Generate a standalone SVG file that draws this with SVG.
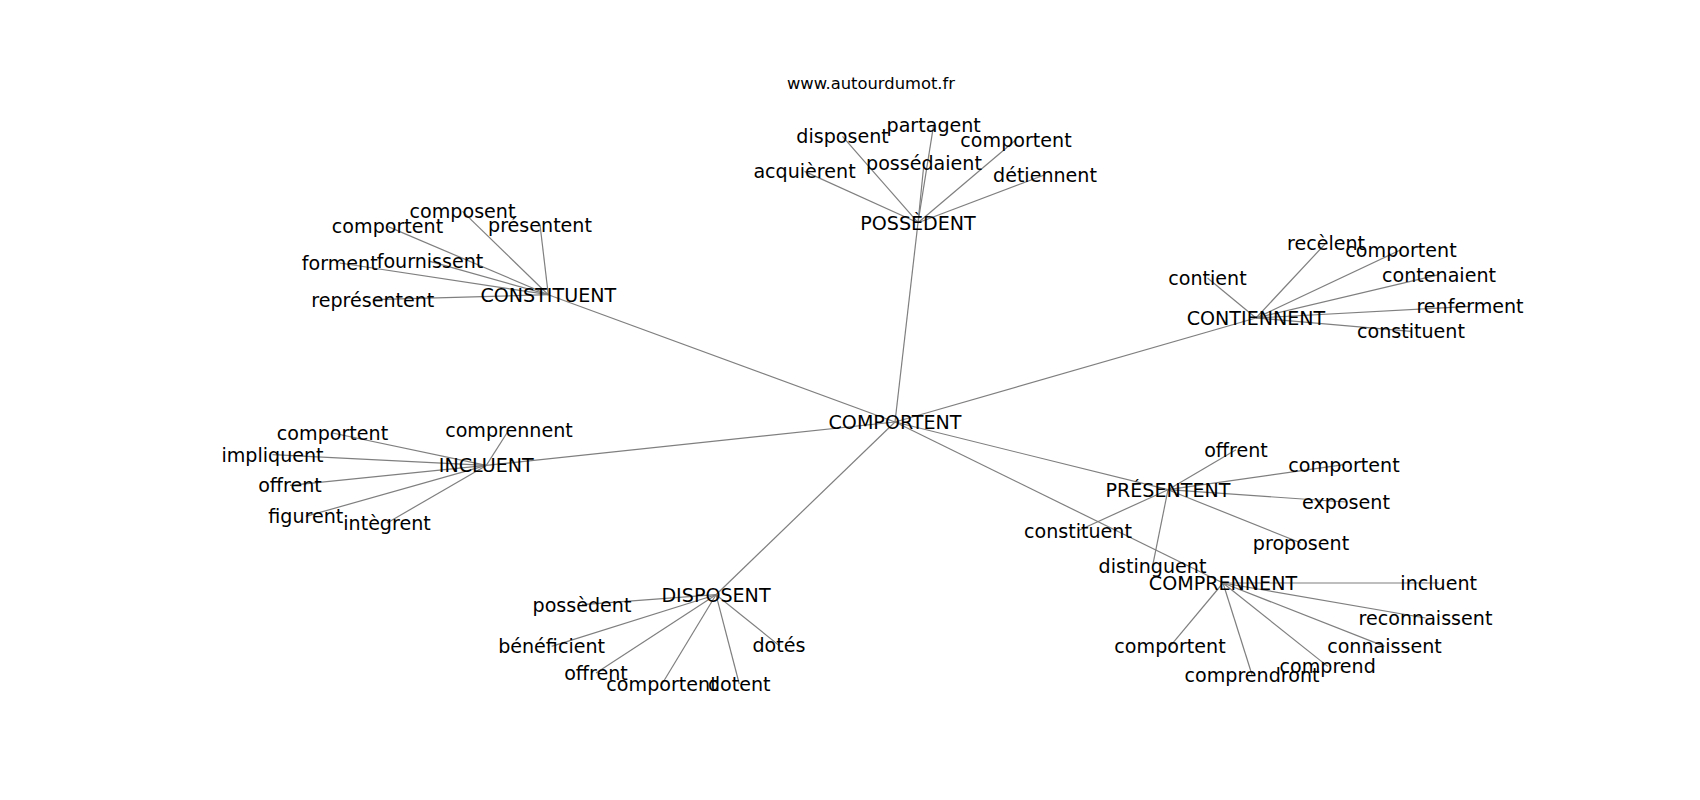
<svg xmlns="http://www.w3.org/2000/svg" width="1700" height="800" viewBox="0 0 1700 800">
<style>
text{font-family:"DejaVu Sans",sans-serif;font-size:19.1px;fill:#000;text-anchor:middle}
.t{font-size:16.35px}
#edges line{stroke:#7f7f7f;stroke-width:1.2}
</style>
<rect width="1700" height="800" fill="#fff"/>
<g id="edges">
<line x1="895" y1="422" x2="918" y2="222.7"/>
<line x1="895" y1="422" x2="548.3" y2="294.7"/>
<line x1="895" y1="422" x2="1256" y2="318"/>
<line x1="895" y1="422" x2="486.3" y2="465.4"/>
<line x1="895" y1="422" x2="1168" y2="489.7"/>
<line x1="895" y1="422" x2="1223" y2="583"/>
<line x1="895" y1="422" x2="716" y2="594.7"/>
<line x1="918" y1="222.7" x2="842.5" y2="136.4"/>
<line x1="918" y1="222.7" x2="933.7" y2="124.7"/>
<line x1="918" y1="222.7" x2="1016" y2="139.7"/>
<line x1="918" y1="222.7" x2="924" y2="163"/>
<line x1="918" y1="222.7" x2="804.5" y2="171.4"/>
<line x1="918" y1="222.7" x2="1045" y2="174.7"/>
<line x1="548.3" y1="294.7" x2="462.5" y2="211.4"/>
<line x1="548.3" y1="294.7" x2="387.5" y2="226.4"/>
<line x1="548.3" y1="294.7" x2="540" y2="224.7"/>
<line x1="548.3" y1="294.7" x2="339.7" y2="263"/>
<line x1="548.3" y1="294.7" x2="430" y2="261.4"/>
<line x1="548.3" y1="294.7" x2="372.8" y2="299.7"/>
<line x1="1256" y1="318" x2="1326" y2="243"/>
<line x1="1256" y1="318" x2="1401" y2="249.7"/>
<line x1="1256" y1="318" x2="1207.5" y2="278"/>
<line x1="1256" y1="318" x2="1439" y2="274.7"/>
<line x1="1256" y1="318" x2="1470" y2="306.4"/>
<line x1="1256" y1="318" x2="1411" y2="331.4"/>
<line x1="486.3" y1="465.4" x2="332.5" y2="433"/>
<line x1="486.3" y1="465.4" x2="509" y2="429.7"/>
<line x1="486.3" y1="465.4" x2="272.5" y2="454.7"/>
<line x1="486.3" y1="465.4" x2="290" y2="485.4"/>
<line x1="486.3" y1="465.4" x2="305.8" y2="516.4"/>
<line x1="486.3" y1="465.4" x2="387" y2="523"/>
<line x1="1168" y1="489.7" x2="1236" y2="449.7"/>
<line x1="1168" y1="489.7" x2="1344" y2="464.7"/>
<line x1="1168" y1="489.7" x2="1346" y2="502"/>
<line x1="1168" y1="489.7" x2="1078" y2="530.7"/>
<line x1="1168" y1="489.7" x2="1301" y2="543"/>
<line x1="1168" y1="489.7" x2="1152.5" y2="566.4"/>
<line x1="1223" y1="583" x2="1438.7" y2="583"/>
<line x1="1223" y1="583" x2="1425.5" y2="618"/>
<line x1="1223" y1="583" x2="1170" y2="646.4"/>
<line x1="1223" y1="583" x2="1384.5" y2="646.4"/>
<line x1="1223" y1="583" x2="1327.7" y2="666.4"/>
<line x1="1223" y1="583" x2="1252" y2="674.7"/>
<line x1="716" y1="594.7" x2="582" y2="604.7"/>
<line x1="716" y1="594.7" x2="551.6" y2="646.4"/>
<line x1="716" y1="594.7" x2="596" y2="673"/>
<line x1="716" y1="594.7" x2="662" y2="684"/>
<line x1="716" y1="594.7" x2="739.3" y2="684"/>
<line x1="716" y1="594.7" x2="779" y2="645.4"/>
</g>
<g id="labels" transform="translate(0,1.5)">
<g id="title"><text class="t" x="871" y="87.3">www.autourdumot.fr</text></g>
<g id="n-comportent-center"><text x="895" y="427.3">COMPORTENT</text></g>
<g id="n-possedent"><text x="918" y="228">POSSÈDENT</text></g>
<g id="n-possedent-disposent"><text x="842.5" y="141.7">disposent</text></g>
<g id="n-possedent-partagent"><text x="933.7" y="130">partagent</text></g>
<g id="n-possedent-comportent"><text x="1016" y="145">comportent</text></g>
<g id="n-possedent-possedaient"><text x="924" y="168.3">possédaient</text></g>
<g id="n-possedent-acquierent"><text x="804.5" y="176.7">acquièrent</text></g>
<g id="n-possedent-detiennent"><text x="1045" y="180">détiennent</text></g>
<g id="n-constituent"><text x="548.3" y="300">CONSTITUENT</text></g>
<g id="n-constituent-composent"><text x="462.5" y="216.7">composent</text></g>
<g id="n-constituent-comportent"><text x="387.5" y="231.7">comportent</text></g>
<g id="n-constituent-presentent"><text x="540" y="230">présentent</text></g>
<g id="n-constituent-forment"><text x="339.7" y="268.3">forment</text></g>
<g id="n-constituent-fournissent"><text x="430" y="266.7">fournissent</text></g>
<g id="n-constituent-representent"><text x="372.8" y="305">représentent</text></g>
<g id="n-contiennent"><text x="1256" y="323.3">CONTIENNENT</text></g>
<g id="n-contiennent-recelent"><text x="1326" y="248.3">recèlent</text></g>
<g id="n-contiennent-comportent"><text x="1401" y="255">comportent</text></g>
<g id="n-contiennent-contient"><text x="1207.5" y="283.3">contient</text></g>
<g id="n-contiennent-contenaient"><text x="1439" y="280">contenaient</text></g>
<g id="n-contiennent-renferment"><text x="1470" y="311.7">renferment</text></g>
<g id="n-contiennent-constituent"><text x="1411" y="336.7">constituent</text></g>
<g id="n-incluent"><text x="486.3" y="470.7">INCLUENT</text></g>
<g id="n-incluent-comportent"><text x="332.5" y="438.3">comportent</text></g>
<g id="n-incluent-comprennent"><text x="509" y="435">comprennent</text></g>
<g id="n-incluent-impliquent"><text x="272.5" y="460">impliquent</text></g>
<g id="n-incluent-offrent"><text x="290" y="490.7">offrent</text></g>
<g id="n-incluent-figurent"><text x="305.8" y="521.7">figurent</text></g>
<g id="n-incluent-integrent"><text x="387" y="528.3">intègrent</text></g>
<g id="n-presentent"><text x="1168" y="495">PRÉSENTENT</text></g>
<g id="n-presentent-offrent"><text x="1236" y="455">offrent</text></g>
<g id="n-presentent-comportent"><text x="1344" y="470">comportent</text></g>
<g id="n-presentent-exposent"><text x="1346" y="507.3">exposent</text></g>
<g id="n-presentent-constituent"><text x="1078" y="536">constituent</text></g>
<g id="n-presentent-proposent"><text x="1301" y="548.3">proposent</text></g>
<g id="n-presentent-distinguent"><text x="1152.5" y="571.7">distinguent</text></g>
<g id="n-comprennent"><text x="1223" y="588.3">COMPRENNENT</text></g>
<g id="n-comprennent-incluent"><text x="1438.7" y="588.3">incluent</text></g>
<g id="n-comprennent-reconnaissent"><text x="1425.5" y="623.3">reconnaissent</text></g>
<g id="n-comprennent-comportent"><text x="1170" y="651.7">comportent</text></g>
<g id="n-comprennent-connaissent"><text x="1384.5" y="651.7">connaissent</text></g>
<g id="n-comprennent-comprend"><text x="1327.7" y="671.7">comprend</text></g>
<g id="n-comprennent-comprendront"><text x="1252" y="680">comprendront</text></g>
<g id="n-disposent"><text x="716" y="600">DISPOSENT</text></g>
<g id="n-disposent-possedent"><text x="582" y="610">possèdent</text></g>
<g id="n-disposent-beneficient"><text x="551.6" y="651.7">bénéficient</text></g>
<g id="n-disposent-offrent"><text x="596" y="678.3">offrent</text></g>
<g id="n-disposent-comportent"><text x="662" y="689.3">comportent</text></g>
<g id="n-disposent-dotent"><text x="739.3" y="689.3">dotent</text></g>
<g id="n-disposent-dotes"><text x="779" y="650.7">dotés</text></g>
</g>
</svg>
